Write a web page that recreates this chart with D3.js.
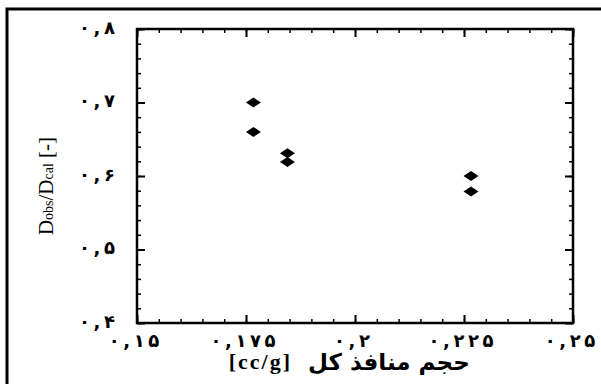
<!DOCTYPE html>
<html>
<head>
<meta charset="utf-8">
<script src="https://cdn.jsdelivr.net/npm/d3@7"></script>
<style>
  body { margin: 0; background: #fff; }
  svg { display: block; }
</style>
</head>
<body>
<svg id="chart" width="601" height="384"></svg>
<script>
// data
const poreVolume = [0.1767, 0.1767, 0.1845, 0.1845, 0.2266, 0.2266];
const ratio = [0.700, 0.660, 0.631, 0.619, 0.600, 0.579];

const xTicks = [0.15, 0.175, 0.2, 0.225, 0.25];
const xTickLabels = ["۰,۱۵", "۰,۱۷۵", "۰,۲", "۰,۲۲۵", "۰,۲۵"];
const yTicks = [0.4, 0.5, 0.6, 0.7, 0.8];
const yTickLabels = ["۰,۴", "۰,۵", "۰,۶", "۰,۷", "۰,۸"];

const svg = d3.select("#chart");
const width = +svg.attr("width");
const height = +svg.attr("height");

const margin = { top: 29, right: 28, bottom: 61, left: 137 };
const innerWidth = width - margin.left - margin.right;
const innerHeight = height - margin.top - margin.bottom;

// letter-spacing is ignored for Arabic-script runs, so spread the digits with thin spaces
const spread = s => s.split("").join("\u2009");

// outer frame (only left + top edges show in the picture)
svg.append("path")
  .attr("d", `M7,${height} L7,9 L${width},9`)
  .attr("fill", "none")
  .attr("stroke", "#000")
  .attr("stroke-width", 3);

const g = svg.append("g")
  .attr("transform", `translate(${margin.left},${margin.top})`);

const x = d3.scaleLinear().domain([0.15, 0.25]).range([0, innerWidth]);
const y = d3.scaleLinear().domain([0.4, 0.8]).range([innerHeight, 0]);

const xMinor = d3.range(0.15, 0.2501, 0.005);
const yMinor = d3.range(0.4, 0.8001, 0.02);

// ticks point inward on all four sides, minor + major
function tickAxis(makeAxis, minor, major, transform) {
  g.append("g")
    .attr("transform", transform)
    .call(makeAxis().tickValues(minor).tickSize(-4).tickFormat(""))
    .call(s => s.select(".domain").remove())
    .call(s => s.selectAll(".tick line").attr("stroke-width", 1.5));
  g.append("g")
    .attr("transform", transform)
    .call(makeAxis().tickValues(major).tickSize(-8).tickFormat(""))
    .call(s => s.select(".domain").remove())
    .call(s => s.selectAll(".tick line").attr("stroke-width", 2));
}

tickAxis(() => d3.axisBottom(x), xMinor, xTicks, `translate(0,${innerHeight})`);
tickAxis(() => d3.axisTop(x), xMinor, xTicks, "translate(0,0)");
tickAxis(() => d3.axisLeft(y), yMinor, yTicks, "translate(0,0)");
tickAxis(() => d3.axisRight(y), yMinor, yTicks, `translate(${innerWidth},0)`);

// frame of the plot area
g.append("rect")
  .attr("width", innerWidth)
  .attr("height", innerHeight)
  .attr("fill", "none")
  .attr("stroke", "#000")
  .attr("stroke-width", 2.5);

// tick labels
g.append("g")
  .selectAll("text")
  .data(xTicks)
  .join("text")
  .attr("x", d => x(d) - 3)
  .attr("y", innerHeight + 24)
  .attr("text-anchor", "middle")
  .attr("direction", "ltr")
  .attr("font-family", "DejaVu Sans, sans-serif")
  .attr("font-weight", "bold")
  .attr("font-size", 18)
  .text((d, i) => spread(xTickLabels[i]));

g.append("g")
  .selectAll("text")
  .data(yTicks)
  .join("text")
  .attr("x", -22)
  .attr("y", d => y(d))
  .attr("dy", "0.25em")
  .attr("text-anchor", "end")
  .attr("direction", "ltr")
  .attr("font-family", "DejaVu Sans, sans-serif")
  .attr("font-weight", "bold")
  .attr("font-size", 18)
  .text((d, i) => spread(yTickLabels[i]));

// markers
g.append("g")
  .selectAll("path")
  .data(poreVolume)
  .join("path")
  .attr("transform", (d, i) => `translate(${x(d)},${y(ratio[i])}) scale(1.5,1)`)
  .attr("d", "M0,-5L5,0L0,5L-5,0Z")
  .attr("fill", "#000");

// x axis title: unit on the left, Persian words on the right
svg.append("text")
  .attr("x", 292)
  .attr("y", 369)
  .attr("text-anchor", "end")
  .attr("font-family", "Liberation Serif, serif")
  .attr("font-weight", "bold")
  .attr("font-size", 22)
  .attr("letter-spacing", 2)
  .text("[cc/g]");
svg.append("text")
  .attr("x", 308)
  .attr("y", 370)
  .attr("text-anchor", "start")
  .attr("direction", "ltr")
  .attr("font-family", "DejaVu Sans, sans-serif")
  .attr("font-weight", "bold")
  .attr("font-size", 23)
  .text("حجم منافذ کل");

// y axis title
const yTitle = svg.append("text")
  .attr("transform", "translate(53,186) rotate(-90)")
  .attr("text-anchor", "middle")
  .attr("font-family", "Liberation Serif, serif")
  .attr("font-size", 21);
yTitle.append("tspan").text("D");
yTitle.append("tspan").attr("font-size", 14).text("obs");
yTitle.append("tspan").text("/D");
yTitle.append("tspan").attr("font-size", 14).text("cal");
yTitle.append("tspan").text(" [-]");
</script>
</body>
</html>
